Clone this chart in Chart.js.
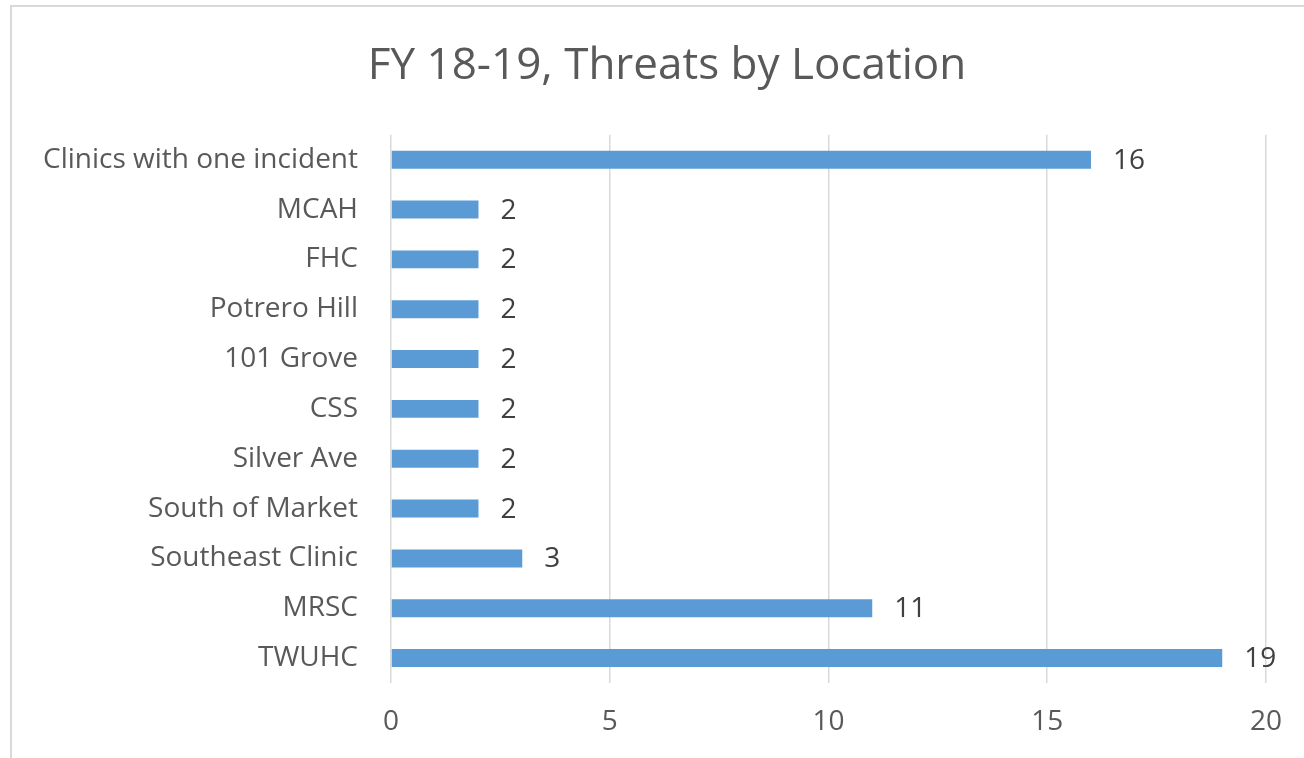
<!DOCTYPE html>
<html>
<head>
<meta charset="utf-8">
<script src="https://cdn.jsdelivr.net/npm/chart.js@4"></script>
<style>
html,body{margin:0;padding:0;background:#fff;overflow:hidden}
#wrap{position:absolute;left:0;top:0;width:1304px;height:758px}
#frame{position:absolute;left:10px;top:5px;width:1400px;height:900px;border:2px solid #d9d9d9;pointer-events:none}
</style>
</head>
<body>
<div id="wrap"><canvas id="c" width="1304" height="758"></canvas></div>
<div id="frame"></div>
<script>
/* data */
const locations = ["Clinics with one incident","MCAH","FHC","Potrero Hill","101 Grove","CSS","Silver Ave","South of Market","Southeast Clinic","MRSC","TWUHC"];
const threats = [16,2,2,2,2,2,2,2,3,11,19];
const xTicks = [0,5,10,15,20];

const FONT = "'Open Sans', 'DejaVu Sans', sans-serif";
const LABEL_SIZE = 28;

/* value labels at bar ends */
const valueLabels = {
  id:"valueLabels",
  afterDatasetsDraw(chart){
    const ctx = chart.ctx;
    const meta = chart.getDatasetMeta(0);
    ctx.save();
    ctx.font = LABEL_SIZE + "px " + FONT;
    ctx.fillStyle = "#404040";
    ctx.textAlign = "left";
    ctx.textBaseline = "middle";
    meta.data.forEach((bar,i)=>{
      ctx.fillText(String(threats[i]), bar.x + 22, bar.y + 1);
    });
    ctx.restore();
  }
};

/* title sits a bit right of the canvas centre */
const shiftTitle = {
  id:"shiftTitle",
  afterLayout(chart){
    const t = chart.titleBlock;
    if(t){ t.left = 68; t.right = 1266; t.width = 1266 - 68; }
  }
};

Chart.defaults.font.family = FONT;
Chart.defaults.color = "#595959";

new Chart(document.getElementById("c"),{
  type:"bar",
  data:{
    labels:locations,
    datasets:[{
      data:threats,
      backgroundColor:"#5b9bd5",
      borderWidth:0,
      categoryPercentage:1,
      barPercentage:0.36
    }]
  },
  options:{
    indexAxis:"y",
    responsive:false,
    animation:false,
    layout:{padding:{left:0,right:38,top:0,bottom:0}},
    plugins:{
      legend:{display:false},
      tooltip:{enabled:false},
      title:{
        display:true,
        text:"FY 18-19, Threats by Location",
        color:"#595959",
        font:{size:44,weight:"normal",lineHeight:1.2},
        padding:{top:40,bottom:42}
      }
    },
    scales:{
      x:{
        min:0,max:20,
        afterBuildTicks:(s)=>{ s.ticks = xTicks.map(v=>({value:v})); },
        afterFit:(s)=>{ s.height = 75; },
        grid:{color:"#d9d9d9",lineWidth:1.5,drawTicks:false},
        border:{display:false},
        ticks:{color:"#595959",font:{size:LABEL_SIZE},padding:22}
      },
      y:{
        afterFit:(s)=>{ s.width = 391; },
        grid:{display:false,drawTicks:false},
        border:{display:false},
        ticks:{color:"#595959",font:{size:LABEL_SIZE},padding:33,autoSkip:false}
      }
    }
  },
  plugins:[valueLabels, shiftTitle]
});
</script>
</body>
</html>
